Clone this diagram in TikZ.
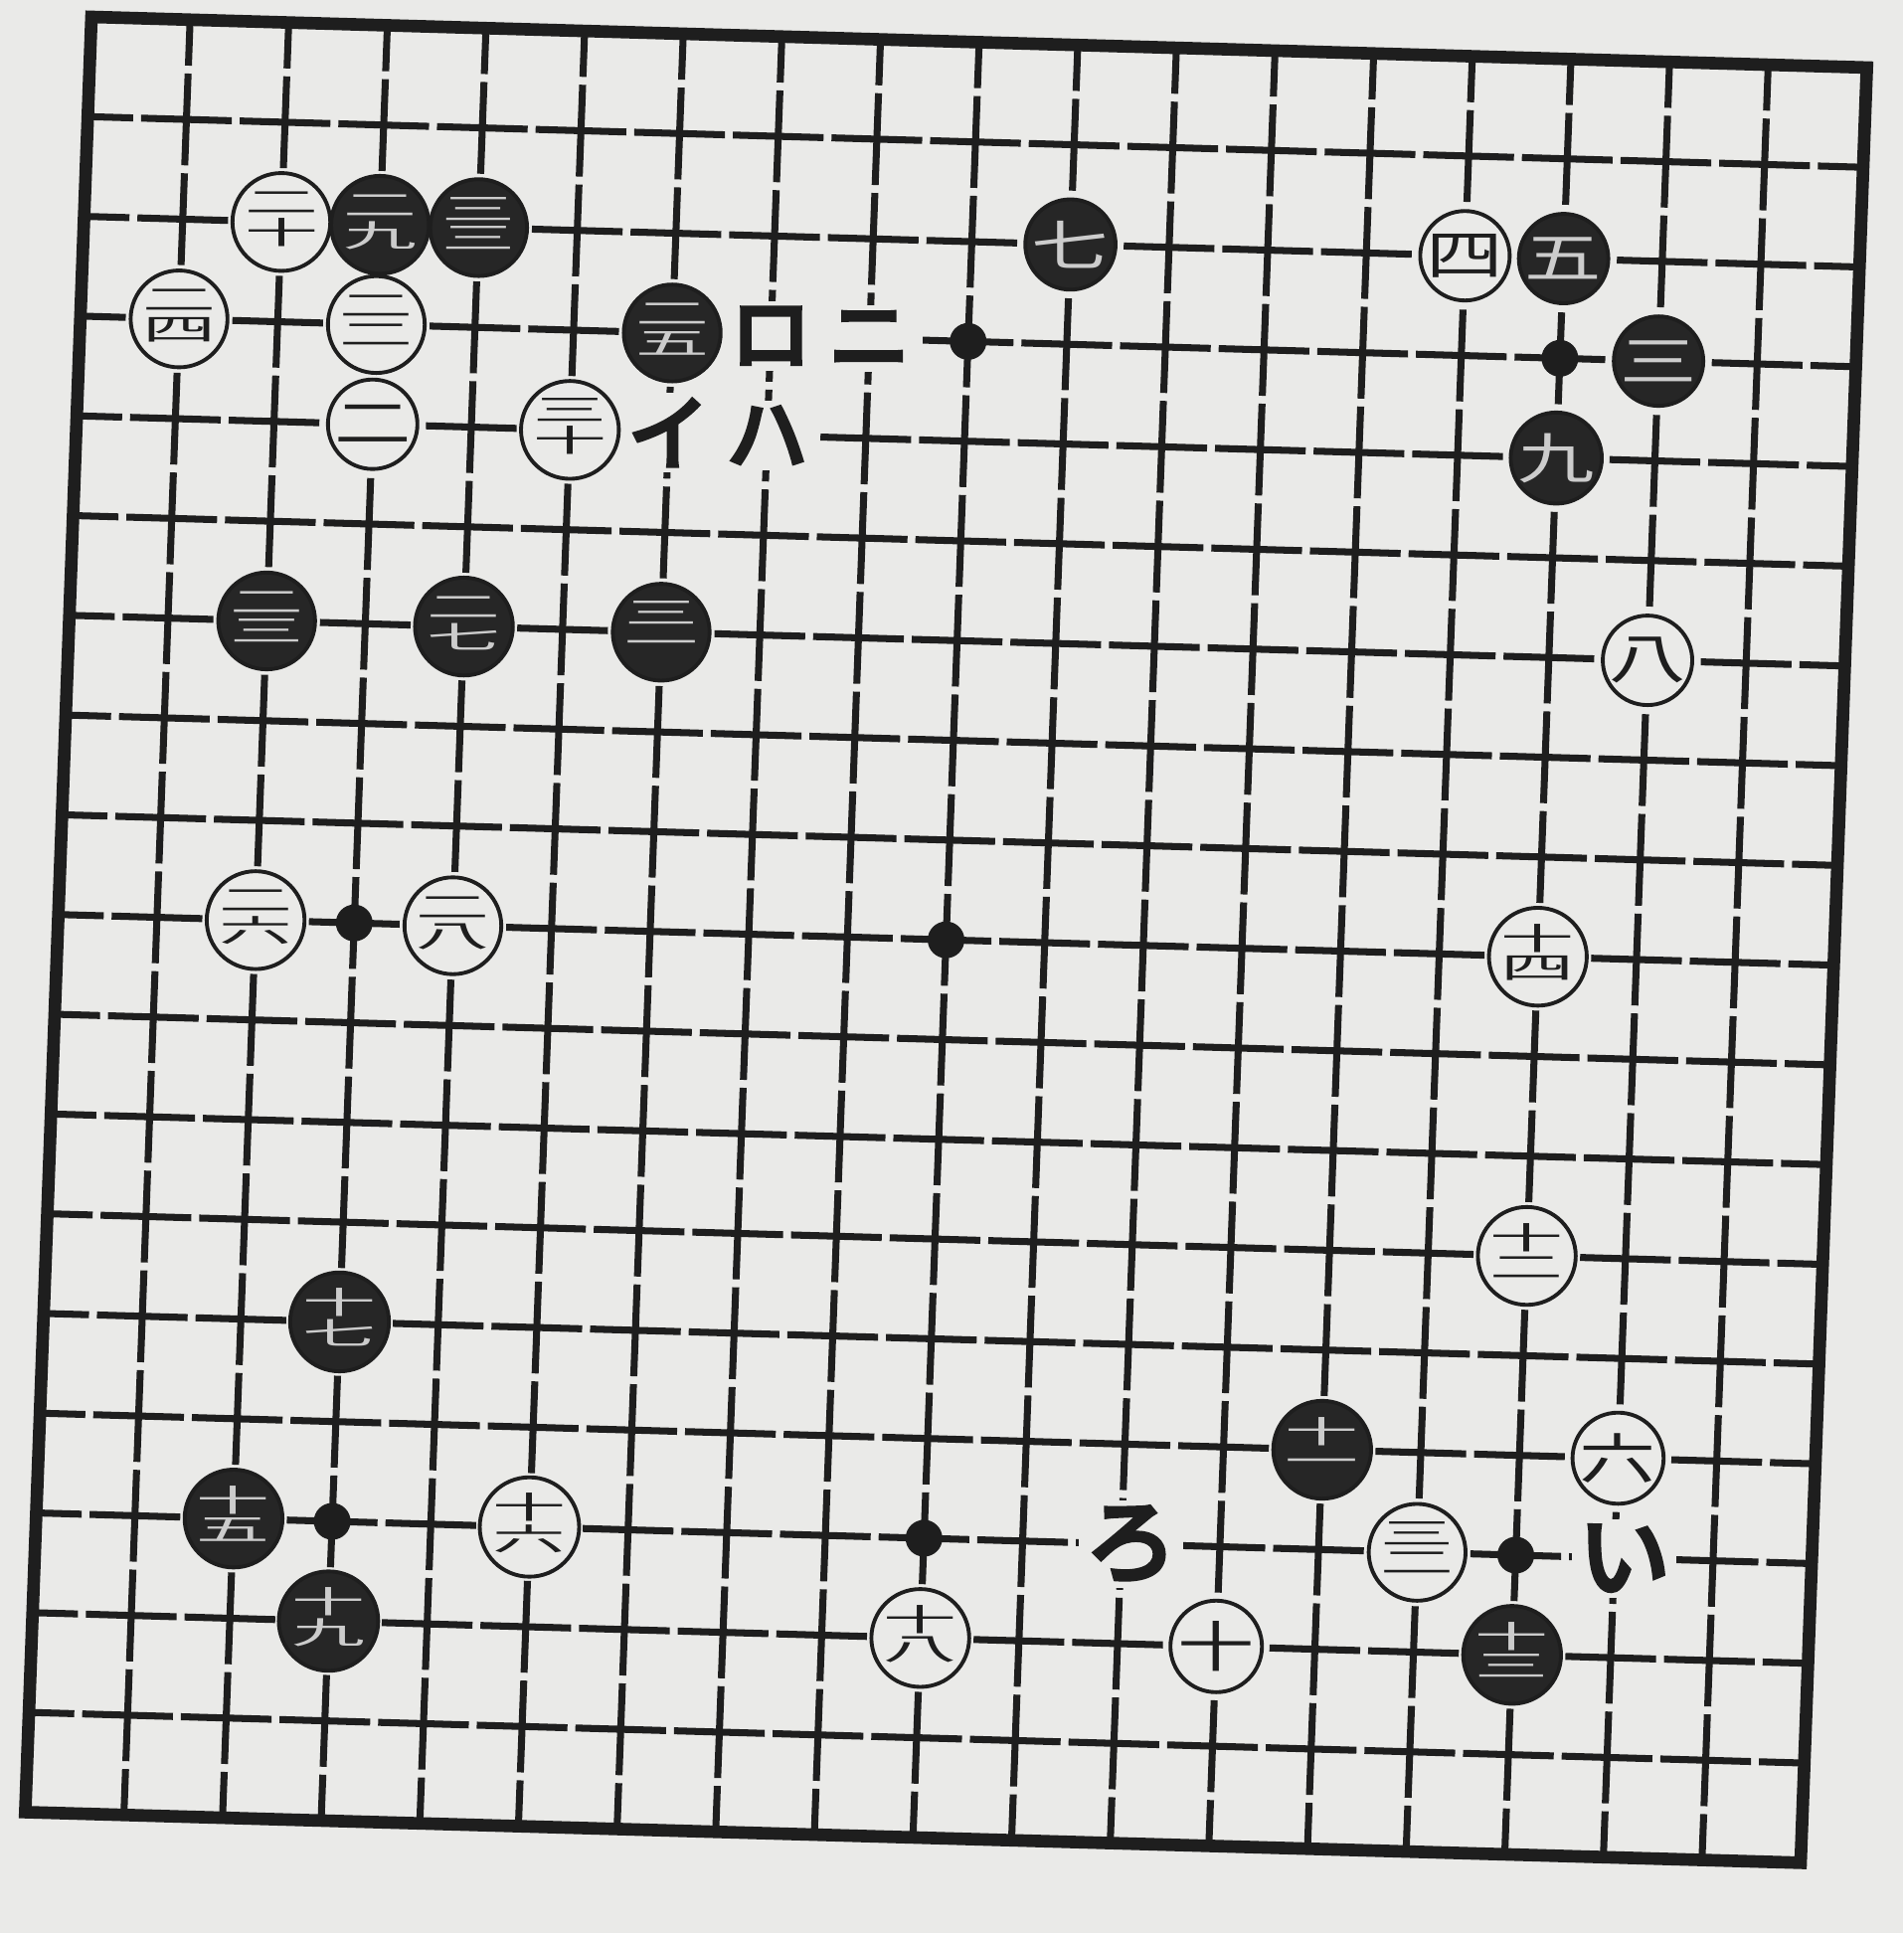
\documentclass[tikz,border=0pt]{standalone}
\usepackage{fontspec}
\usepackage{graphicx}
\newfontfamily\jp{Noto Sans CJK JP}
\newfontfamily\jpb[FakeBold=6]{Noto Sans CJK JP}
\definecolor{paper}{RGB}{234,234,232}
\definecolor{ink}{RGB}{30,30,30}
\definecolor{bstone}{RGB}{38,38,38}
\newcommand{\stk}[2]{\scalebox{1.05}[0.44]{\begin{tabular}{@{}c@{}}#1\\[-3pt]#2\end{tabular}}}
\newcommand{\one}[1]{\scalebox{1.1}[0.78]{#1}}
\tikzset{
  hline/.style={line width=2pt, draw=ink, dash pattern=on 0.9124cm off 0.08cm, dash phase=0.4562cm},
  vline/.style={line width=2pt, draw=ink, dash pattern=on 0.9237cm off 0.08cm, dash phase=0.46185cm},
  border/.style={line width=3.6pt, draw=ink, line join=miter},
  wst/.style={circle, draw=ink, line width=1.1pt, fill=paper, minimum size=0.9cm, inner sep=0pt, text=ink, font=\jp\fontsize{20}{22}\selectfont},
  bst/.style={circle, draw=ink, line width=1.1pt, fill=bstone, minimum size=0.9cm, inner sep=0pt, text=white!80!black, font=\jp\fontsize{20}{22}\selectfont},
  hoshi/.style={circle, fill=ink, minimum size=0.37cm, inner sep=0pt},
  lbl/.style={fill=paper, inner sep=2pt, text=ink, font=\jpb\fontsize{23}{23}\selectfont},
  lblk/.style={fill=paper, inner sep=2pt, text=ink, font=\jpb\fontsize{26}{26}\selectfont}
}
\begin{document}
\begin{tikzpicture}
\useasboundingbox (0,0) rectangle (19.14,-19.44);
\fill[paper] (0,0) rectangle (19.14,-19.44);
\begin{scope}[shift={(0.92cm,-0.17cm)}, x={(0.992cm,-0.0283cm)}, y={(-0.037cm,-1.003cm)}]
  % grid lines
  \foreach \i in {1,...,17} {
    \draw[hline] (0,\i) -- (18,\i);
    \draw[vline] (\i,0) -- (\i,18);
  }
  \draw[border] (0,0) -- (18,0) -- (18,18) -- (0,18) -- cycle;
  % star points
  \foreach \p/\q [count=\k] in {9/3,15/3,3/9,9/9,3/15,9/15,15/15} {
    \node[hoshi] (h\k) at (\p,\q) {};
  }
  % white stones
  \node[wst] (w20) at (2,2) {\stk{二}{十}};
  \node[wst] (w24) at (1,3) {\stk{二}{四}};
  \node[wst] (w22) at (3,3) {\stk{二}{二}};
  \node[wst] (w2)  at (3,4) {\one{二}};
  \node[wst] (w30) at (5,4) {\stk{三}{十}};
  \node[wst] (w4)  at (14,2) {\one{四}};
  \node[wst] (w8)  at (16,6) {\one{八}};
  \node[wst] (w14) at (15,9) {\stk{十}{四}};
  \node[wst] (w26) at (2,9) {\stk{二}{六}};
  \node[wst] (w28) at (4,9) {\stk{二}{八}};
  \node[wst] (w12) at (15,12) {\stk{十}{二}};
  \node[wst] (w6)  at (16,14) {\one{六}};
  \node[wst] (w16) at (5,15) {\stk{十}{六}};
  \node[wst] (w18) at (9,16) {\stk{十}{八}};
  \node[wst] (w10) at (12,16) {\one{十}};
  \node[wst] (w32) at (14,15) {\stk{三}{二}};
  % black stones
  \node[bst] (b29) at (3,2) {\stk{二}{九}};
  \node[bst] (b33) at (4,2) {\stk{三}{三}};
  \node[bst] (b25) at (6,3) {\stk{二}{五}};
  \node[bst] (b7)  at (10,2) {\one{七}};
  \node[bst] (b5)  at (15,2) {\one{五}};
  \node[bst] (b3)  at (16,3) {\one{三}};
  \node[bst] (b9)  at (15,4) {\one{九}};
  \node[bst] (b23) at (2,6) {\stk{二}{三}};
  \node[bst] (b27) at (4,6) {\stk{二}{七}};
  \node[bst] (b31) at (6,6) {\stk{三}{一}};
  \node[bst] (b17) at (3,13) {\stk{十}{七}};
  \node[bst] (b11) at (13,14) {\stk{十}{一}};
  \node[bst] (b15) at (2,15) {\stk{十}{五}};
  \node[bst] (b19) at (3,16) {\stk{十}{九}};
  \node[bst] (b13) at (15,16) {\stk{十}{三}};
  % reference letters
  \node[lbl] (kro) at (7,3) {ロ};
  \node[lbl] (kni) at (8,3) {ニ};
  \node[lbl] (ki)  at (6,4) {イ};
  \node[lbl] (kha) at (7,4) {ハ};
  \node[lblk] (hro) at (11.1,15) {ろ};
  \node[lblk] (hi)  at (16.1,15) {い};
\end{scope}
\end{tikzpicture}
\end{document}
